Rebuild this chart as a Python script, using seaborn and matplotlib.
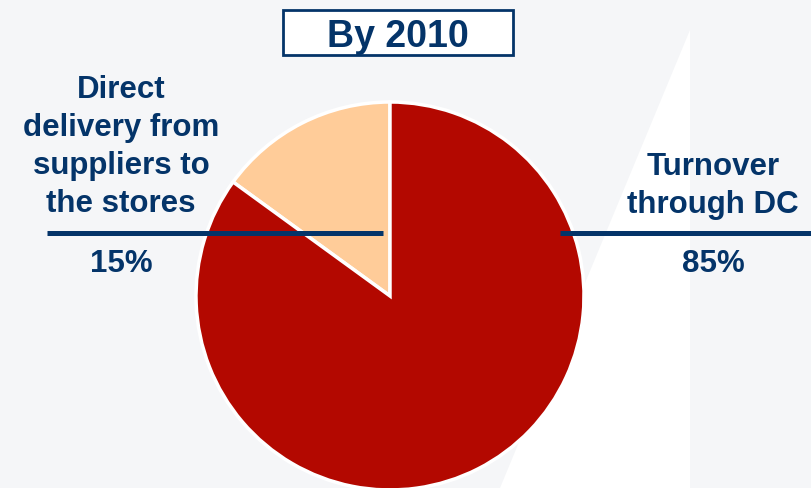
import matplotlib
matplotlib.use("Agg")
import matplotlib.pyplot as plt
from matplotlib.patches import Polygon, Rectangle
import seaborn as sns

# ---- data ----
title = "By 2010"
categories = ["Direct\ndelivery from\nsuppliers to\nthe stores", "Turnover\nthrough DC"]
shares = [15, 85]
colors = ["#FFCC99", "#B30800"]

sns.set_theme(style="white")
plt.rcParams['font.family'] = ['Liberation Sans', 'DejaVu Sans']

NAVY = "#043469"
BG = "#F5F6F8"
W, H = 812, 488
fig = plt.figure(figsize=(W / 100, H / 100), dpi=100)
fig.patch.set_facecolor(BG)
ax = fig.add_axes([0, 0, 1, 1])
ax.set_facecolor(BG)

# faint white background shape
ax.add_patch(Polygon([(690, H - 30), (690, 0), (500, 0)], closed=True,
                     facecolor="white", edgecolor="none", zorder=0))

# pie
cx, cy, r = 390, H - 296, 194
ax.pie(shares, colors=colors, startangle=90, counterclock=True,
       center=(cx, cy), radius=r,
       wedgeprops=dict(edgecolor="white", linewidth=2.5), frame=True)
ax.set_xlim(0, W)
ax.set_ylim(0, H)
ax.set_aspect('auto')
ax.axis('off')

# title box
ax.add_patch(Rectangle((283, H - 55), 230, 45, facecolor="white",
                       edgecolor=NAVY, linewidth=2, zorder=5))
ax.text(398, H - 33, title, ha="center", va="center_baseline", fontsize=27,
        fontweight="bold", color=NAVY, zorder=6)

# labels
label_specs = [
    dict(x=121, first_base=98, line=(47, 383), pct_base=272),
    dict(x=713, first_base=175, line=(560, 812), pct_base=272),
]
line_y = 233
for cat, val, spec in zip(categories, shares, label_specs):
    for i, ln in enumerate(cat.split("\n")):
        ax.text(spec["x"], H - (spec["first_base"] + i * 38), ln, ha="center",
                va="baseline", fontsize=22.5, fontweight="bold", color=NAVY, zorder=6)
    ax.plot(spec["line"], [H - line_y, H - line_y], color=NAVY, lw=3.6,
            solid_capstyle="butt", zorder=6)
    ax.text(spec["x"], H - spec["pct_base"], f"{val}%", ha="center",
            va="baseline", fontsize=22.5, fontweight="bold", color=NAVY, zorder=6)

fig.savefig("out.png", dpi=100, facecolor=fig.get_facecolor())
